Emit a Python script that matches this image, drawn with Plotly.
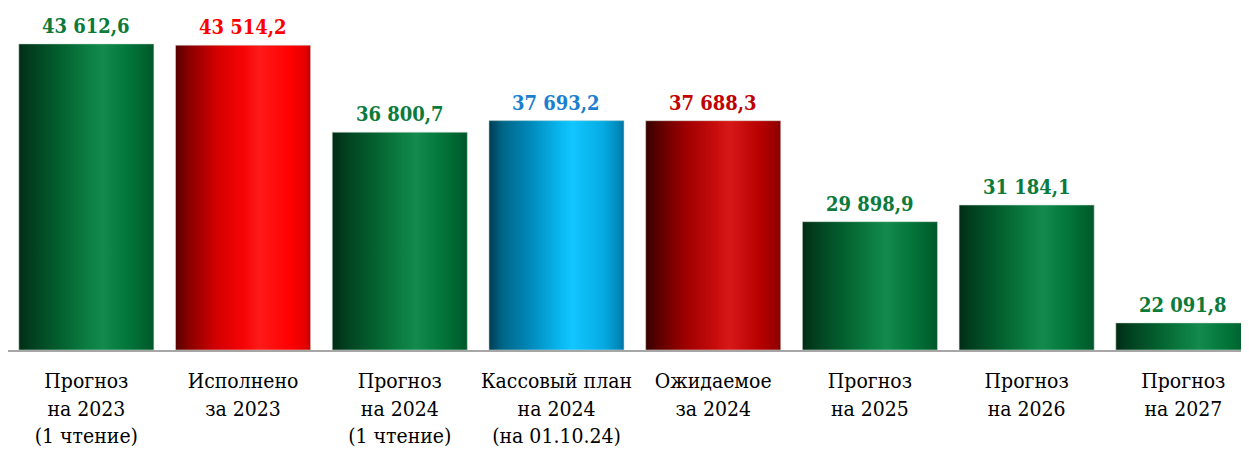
import plotly.graph_objects as go

categories = [
    "Прогноз<br>на 2023<br>(1 чтение)",
    "Исполнено<br>за 2023",
    "Прогноз<br>на 2024<br>(1 чтение)",
    "Кассовый план<br>на 2024<br>(на 01.10.24)",
    "Ожидаемое<br>за 2024",
    "Прогноз<br>на 2025",
    "Прогноз<br>на 2026",
    "Прогноз<br>на 2027",
]
values = [43612.6, 43514.2, 36800.7, 37693.2, 37688.3, 29898.9, 31184.1, 22091.8]
value_labels = ["43 612,6", "43 514,2", "36 800,7", "37 693,2", "37 688,3", "29 898,9", "31 184,1", "22 091,8"]
styles = ["green", "red", "green", "blue", "darkred", "green", "green", "green"]

gradients = {
    "green": [[0, "#012c15"], [0.08, "#013d1e"], [0.3, "#035f2e"], [0.52, "#0c7f43"],
              [0.62, "#148a4e"], [0.8, "#03773b"], [0.95, "#00602e"], [1, "#00552a"]],
    "red": [[0, "#580000"], [0.1, "#8a0000"], [0.3, "#d20000"], [0.5, "#f60404"],
            [0.62, "#ff1a1a"], [0.85, "#ff0000"], [0.96, "#e40000"], [1, "#c40000"]],
    "blue": [[0, "#003c54"], [0.1, "#006686"], [0.3, "#0088ba"], [0.52, "#08b6ee"],
             [0.62, "#12c6ff"], [0.85, "#05aae2"], [0.96, "#0088bb"], [1, "#0074a4"]],
    "darkred": [[0, "#380000"], [0.1, "#5e0000"], [0.3, "#a00000"], [0.52, "#c80c0c"],
                [0.62, "#d81818"], [0.85, "#b60000"], [0.96, "#980000"], [1, "#880000"]],
}
label_colors = {"green": "#0b7a3b", "red": "#ff0000", "blue": "#1a7fd0", "darkred": "#c00000"}

SERIF = "DejaVu Serif Condensed, DejaVu Serif"
y_min, y_max = 20000, 46380
half = 0.431

fig = go.Figure()
for i, (v, s) in enumerate(zip(values, styles)):
    fig.add_trace(go.Scatter(
        x=[i - half, i + half, i + half, i - half, i - half],
        y=[y_min, y_min, v, v, y_min],
        mode="lines",
        fill="toself",
        fillgradient=dict(type="horizontal", colorscale=gradients[s]),
        line=dict(color="rgba(210,225,215,0.55)", width=1),
        hoverinfo="skip",
        showlegend=False,
    ))
    fig.add_annotation(
        x=i, y=v, text="<b>" + value_labels[i] + "</b>", showarrow=False,
        yanchor="bottom", yshift=4,
        font=dict(family=SERIF, size=20, color=label_colors[s]),
    )

fig.update_layout(
    width=1249, height=450,
    margin=dict(l=0, r=0, t=0, b=108, autoexpand=False),
    paper_bgcolor="white", plot_bgcolor="white",
    font=dict(family=SERIF),
    xaxis=dict(
        range=[-0.5, 7.47], tickmode="array", tickvals=list(range(len(categories))),
        ticktext=categories, showgrid=False, zeroline=False, automargin=False,
        showline=True, linecolor="#a6a6a6", linewidth=2,
        tickfont=dict(family=SERIF, size=21, color="#000000"),
        ticks="", ticklabelstandoff=11,
    ),
    yaxis=dict(range=[y_min, y_max], visible=False, showgrid=False, automargin=False),
)

fig.write_html("out.html")
